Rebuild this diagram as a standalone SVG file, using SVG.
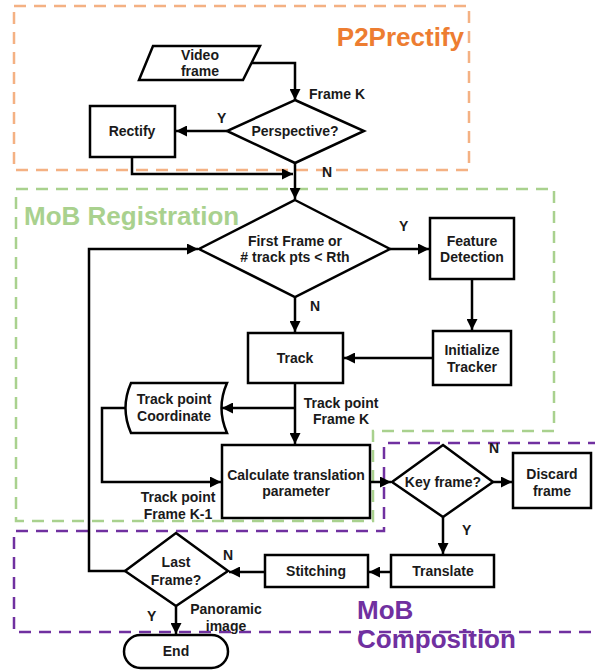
<svg xmlns="http://www.w3.org/2000/svg" width="595" height="671" viewBox="0 0 595 671">
<defs>
<marker id="ah" viewBox="0 0 10 10" refX="10" refY="5" markerWidth="11" markerHeight="11" markerUnits="userSpaceOnUse" orient="auto">
<path d="M0,0 L10,5 L0,10 Z" fill="#000"/>
</marker>
</defs>
<style>
.n{fill:#fff;stroke:#000;stroke-width:2.5}
.t{font-family:"Liberation Sans",Arial,sans-serif;font-weight:bold;font-size:14px;fill:#1a1a1a;text-anchor:middle}
.l{font-family:"Liberation Sans",Arial,sans-serif;font-weight:bold;font-size:14px;fill:#1a1a1a}
.c{fill:none;stroke:#000;stroke-width:2.5;marker-end:url(#ah)}
.g{font-family:"Liberation Sans",Arial,sans-serif;font-weight:bold;font-size:26px}
</style>
<rect width="595" height="671" fill="#fff"/>
<g id="regions">
<rect x="14" y="6" width="455" height="164" fill="none" stroke="#f4b183" stroke-width="2.5" stroke-dasharray="12,8"/>
<path d="M16,189 L554,189 L554,431 L373,431 L373,521 L16,521 Z" fill="none" stroke="#a9d18e" stroke-width="2.5" stroke-dasharray="12,8"/>
<path d="M600,443 L384,443 L384,531 L14,531 L14,632 L600,632" fill="none" stroke="#7030a0" stroke-width="2.5" stroke-dasharray="12,8"/>
<text class="g" x="464" y="46" text-anchor="end" fill="#ed7d31">P2Prectify</text>
<text class="g" x="24" y="225" fill="#a9d18e">MoB Registration</text>
<text class="g" x="357" y="619" fill="#7030a0">MoB</text>
<text class="g" x="357" y="648" fill="#7030a0">Composition</text>
</g>
<g id="connectors">
<path class="c" d="M252,63 L295,63 L295,100"/>
<path class="c" d="M227,131 L176,131"/>
<path class="c" d="M132,157 L132,174 L293,174"/>
<path class="c" d="M295,163 L295,199"/>
<path class="c" d="M390,249 L429,249"/>
<path class="c" d="M472,279 L472,330"/>
<path class="c" d="M433,358 L344,358"/>
<path class="c" d="M295,297 L295,332"/>
<path class="c" d="M295,383 L295,444"/>
<path class="c" d="M295,408 L222,408"/>
<path class="c" d="M125,408 L102,408 L102,482 L221,482"/>
<path class="c" d="M370,482 L391,482"/>
<path class="c" d="M493,482 L512,482"/>
<path class="c" d="M443,517 L443,554"/>
<path class="c" d="M391,572 L369,572"/>
<path class="c" d="M265,572 L229,572"/>
<path class="c" d="M125,571 L89,571 L89,249 L198,249"/>
<path class="c" d="M176,606 L176,634"/>
</g>
<g id="labels">
<text class="l" x="309" y="99">Frame K</text>
<text class="l" x="217" y="123">Y</text>
<text class="l" x="322" y="177">N</text>
<text class="l" x="399" y="231">Y</text>
<text class="l" x="310" y="311">N</text>
<text class="t" x="341" y="408">Track point</text>
<text class="t" x="341" y="424">Frame K</text>
<text class="t" x="178" y="502">Track point</text>
<text class="t" x="178" y="519">Frame K-1</text>
<text class="l" x="489" y="453">N</text>
<text class="l" x="462" y="535">Y</text>
<text class="l" x="223" y="560">N</text>
<text class="l" x="147" y="621">Y</text>
<text class="t" x="226" y="614">Panoramic</text>
<text class="t" x="226" y="631">image</text>
</g>
<g id="video">
<polygon class="n" points="153,46 260,46 243,80 139,80"/>
<text class="t" x="200" y="60">Video</text>
<text class="t" x="200" y="76">frame</text>
</g>
<g id="perspective">
<polygon class="n" points="295,100 364,131 295,163 227,131"/>
<text class="t" x="295" y="136">Perspective?</text>
</g>
<g id="rectify">
<rect class="n" x="90" y="106" width="85" height="51"/>
<text class="t" x="132" y="136">Rectify</text>
</g>
<g id="firstframe">
<polygon class="n" points="295,200 390,249 295,297 199,249"/>
<text class="t" x="295" y="246">First Frame or</text>
<text class="t" x="295" y="262"># track pts &lt; Rth</text>
</g>
<g id="feature">
<rect class="n" x="430" y="218" width="84" height="61"/>
<text class="t" x="472" y="246">Feature</text>
<text class="t" x="472" y="262">Detection</text>
</g>
<g id="init">
<rect class="n" x="433" y="331" width="78" height="54"/>
<text class="t" x="472" y="355">Initialize</text>
<text class="t" x="472" y="372">Tracker</text>
</g>
<g id="track">
<rect class="n" x="248" y="333" width="95" height="50"/>
<text class="t" x="295" y="363">Track</text>
</g>
<g id="coord">
<path class="n" d="M131,383 L227,383 Q216,408 227,433 L131,433 Q120,408 131,383 Z"/>
<text class="t" x="174" y="404">Track point</text>
<text class="t" x="174" y="421">Coordinate</text>
</g>
<g id="calc">
<rect class="n" x="222" y="445" width="148" height="73"/>
<text class="t" x="296" y="480">Calculate translation</text>
<text class="t" x="296" y="496">parameter</text>
</g>
<g id="keyframe">
<polygon class="n" points="443,445 493,482 443,517 392,482"/>
<text class="t" x="443" y="487">Key frame?</text>
</g>
<g id="discard">
<rect class="n" x="513" y="453" width="78" height="55"/>
<text class="t" x="552" y="479">Discard</text>
<text class="t" x="552" y="496">frame</text>
</g>
<g id="translate">
<rect class="n" x="391" y="555" width="103" height="32"/>
<text class="t" x="443" y="576">Translate</text>
</g>
<g id="stitching">
<rect class="n" x="265" y="555" width="103" height="32"/>
<text class="t" x="316" y="576">Stitching</text>
</g>
<g id="lastframe">
<polygon class="n" points="176,533 228,571 176,606 125,571"/>
<text class="t" x="176" y="567">Last</text>
<text class="t" x="176" y="585">Frame?</text>
</g>
<g id="end">
<rect class="n" x="124" y="635" width="104" height="33" rx="16.5"/>
<text class="t" x="176" y="656">End</text>
</g>
</svg>
